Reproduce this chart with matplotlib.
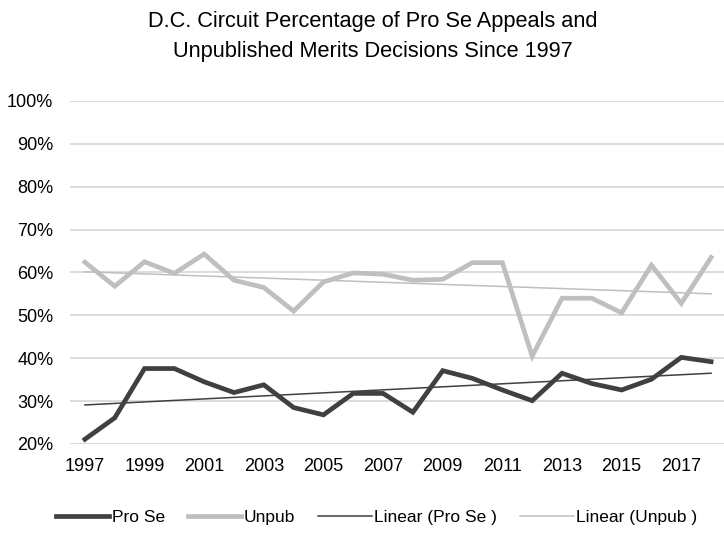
import matplotlib.pyplot as plt
import numpy as np
from matplotlib.ticker import PercentFormatter

plt.rcParams['font.family'] = ['Liberation Sans Narrow', 'Liberation Sans', 'DejaVu Sans']

# data (percent)
years = list(range(1997, 2019))
pro_se = [21.1, 26.1, 37.6, 37.6, 34.5, 32.0, 33.8, 28.5, 26.8, 31.8, 31.8,
          27.4, 37.1, 35.3, 32.6, 30.1, 36.5, 34.1, 32.6, 35.1, 40.2, 39.2]
unpub = [62.4, 56.8, 62.5, 59.8, 64.3, 58.2, 56.5, 51.0, 57.8, 59.9, 59.6,
         58.2, 58.4, 62.3, 62.3, 40.5, 54.0, 54.0, 50.6, 61.7, 52.8, 63.5]
yticks = [20, 30, 40, 50, 60, 70, 80, 90, 100]

dark = '#404040'
light = '#bfbfbf'

fig = plt.figure(figsize=(7.24, 5.36), dpi=100)
ax = fig.add_axes([70 / 724, 92 / 536, 656 / 724, 343 / 536])

x = np.arange(len(years))

ax.plot(x, pro_se, color=dark, lw=3.4, solid_joinstyle='miter', label='Pro Se', zorder=3)
ax.plot(x, unpub, color=light, lw=3.4, solid_joinstyle='miter', label='Unpub', zorder=3)

# linear trend lines
a, b = np.polyfit(x, pro_se, 1)
ax.plot(x, a * x + b, color=dark, lw=1.1, label='Linear (Pro Se )', zorder=4)
a, b = np.polyfit(x, unpub, 1)
ax.plot(x, a * x + b, color=light, lw=1.1, label='Linear (Unpub )', zorder=4)

ax.set_xlim(-0.5, len(years) - 0.5)
ax.set_ylim(20, 100)
ax.set_yticks(yticks)
ax.yaxis.set_major_formatter(PercentFormatter(decimals=0))
ax.set_xticks(x[::2])
ax.set_xticklabels([str(y) for y in years[::2]])
ax.tick_params(length=0, labelsize=13, colors='black')
ax.tick_params(axis='y', pad=12)
ax.tick_params(axis='x', pad=10)
ax.grid(axis='y', color='#d9d9d9', lw=1.3)
for s in ax.spines.values():
    s.set_visible(False)

fig.suptitle('D.C. Circuit Percentage of Pro Se Appeals and\nUnpublished Merits Decisions Since 1997',
             fontsize=15.7, x=0.515, y=0.98, linespacing=1.6)

fig.legend(loc='center', bbox_to_anchor=(0.52, 0.035), ncol=4, frameon=False,
           fontsize=12.5, handlelength=3.1, handletextpad=0.15, columnspacing=1.3)

plt.savefig('out.png', dpi=100)
